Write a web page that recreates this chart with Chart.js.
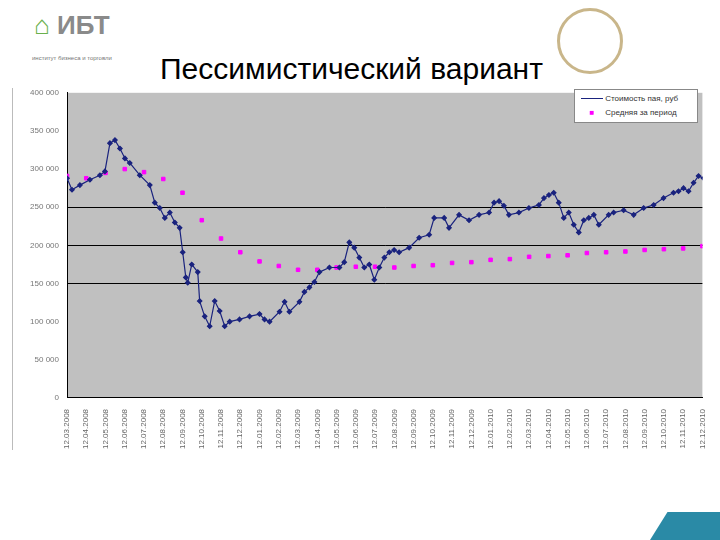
<!DOCTYPE html>
<html><head><meta charset="utf-8">
<script src="https://cdn.jsdelivr.net/npm/chart.js@4"></script>
<style>
body{margin:0;width:720px;height:540px;background:#fff;position:relative;overflow:hidden;font-family:"Liberation Sans",Arial,sans-serif}
#title{position:absolute;left:160px;top:52px;font-size:30px;color:#000}
#logo{position:absolute;left:34px;top:10px;font-size:26px;font-weight:bold;color:#8a8a8a}
#logo span{color:#6ab04c}
#sub{position:absolute;left:32px;top:55px;font-size:6px;color:#777}
#emb{position:absolute;left:557px;top:8px;width:66px;height:66px;border-radius:50%;border:3px solid #c9b68a;box-sizing:border-box}
#vl{position:absolute;left:12px;top:88px;width:1px;height:362px;background:#bbb}
#tri{position:absolute;right:0;bottom:0;width:70px;height:28px;background:#2a8aa6;clip-path:polygon(25% 0,100% 0,100% 100%,0 100%)}
#wrap{position:absolute;left:0;top:80px;width:715px;height:372px}
#leg{position:absolute;left:574px;top:89px;width:122px;height:32px;background:#fff;border:1px solid #888;font-size:8px;color:#333}
</style></head><body>
<div id="logo"><span>⌂</span> ИБТ</div><div id="sub">институт бизнеса и торговли</div>
<div id="emb"></div><div id="vl"></div>
<div id="title">Пессимистический вариант</div>
<div id="wrap"><canvas id="c" width="715" height="372"></canvas></div>
<div id="leg">
<div style="position:absolute;left:6px;top:4px"><span style="display:inline-block;width:22px;border-top:1px solid #1a237e;vertical-align:middle"></span> Стоимость пая, руб</div>
<div style="position:absolute;left:6px;top:18px"><span style="display:inline-block;width:22px;text-align:center;color:#ff00ff">■</span> Средняя за период</div>
</div>
<div id="tri"></div>
<script>
const monthLabels=["12.03.2008","12.04.2008","12.05.2008","12.06.2008","12.07.2008","12.08.2008","12.09.2008","12.10.2008","12.11.2008","12.12.2008","12.01.2009","12.02.2009","12.03.2009","12.04.2009","12.05.2009","12.06.2009","12.07.2009","12.08.2009","12.09.2009","12.10.2009","12.11.2009","12.12.2009","12.01.2010","12.02.2010","12.03.2010","12.04.2010","12.05.2010","12.06.2010","12.07.2010","12.08.2010","12.09.2010","12.10.2010","12.11.2010","12.12.2010"];
const priceX=[0,.26,.67,1.19,1.71,1.97,2.23,2.49,2.75,3.01,3.26,3.78,4.3,4.56,4.82,5.08,5.34,5.6,5.85,6.01,6.17,6.27,6.48,6.79,6.89,7.15,7.41,7.67,7.93,8.19,8.45,8.96,9.48,10,10.26,10.52,11.04,11.3,11.55,12.07,12.33,12.59,12.85,13.11,13.63,14.15,14.4,14.66,14.92,15.18,15.44,15.7,15.96,16.22,16.48,16.74,16.99,17.25,17.77,18.29,18.81,19.07,19.59,19.84,20.36,20.88,21.4,21.92,22.18,22.44,22.69,22.95,23.47,23.99,24.51,24.77,25.03,25.28,25.54,25.8,26.06,26.32,26.58,26.84,27.1,27.36,27.62,28.13,28.39,28.91,29.43,29.95,30.47,30.98,31.5,31.76,32.02,32.28,32.54,32.8,33.06];
const priceY=[288,273,279,286,292,297,334,338,327,314,308,292,279,256,249,236,243,230,223,191,158,151,175,165,127,107,94,127,114,94,100,103,107,110,103,100,113,126,113,126,139,145,152,165,171,171,178,204,197,184,171,175,155,171,184,191,194,191,197,210,214,236,236,223,240,233,240,243,256,258,252,240,243,249,253,262,266,269,256,236,243,227,217,233,236,240,227,240,243,246,240,249,253,262,269,271,275,271,282,291,288];
const avgY=[291,288,295,300,296,287,269,233,209,191,179,173,168,168,171,172,172,171,173,174,177,178,181,182,185,186,187,190,191,192,194,195,196,199];
const priceData=priceX.map((x,i)=>({x:x,y:priceY[i]*1000}));
const avgData=avgY.map((v,i)=>({x:i,y:v*1000}));
const bg={id:'bg',beforeDraw(c){const a=c.chartArea,x=c.ctx;x.save();x.fillStyle='#c0c0c0';x.fillRect(a.left,a.top,a.right-a.left,a.bottom-a.top);x.restore();}};
new Chart(document.getElementById('c'),{
type:'line',
data:{datasets:[
{data:priceData,borderColor:'#1a237e',borderWidth:1.2,pointStyle:'rectRot',pointRadius:2.2,pointBackgroundColor:'#1a237e',pointBorderColor:'#1a237e',tension:0},
{data:avgData,showLine:false,pointStyle:'rect',pointRadius:2.5,pointBackgroundColor:'#ff00ff',pointBorderColor:'#ff00ff'}
]},
options:{animation:false,responsive:false,maintainAspectRatio:false,
layout:{padding:{top:9,right:0}},
plugins:{legend:{display:false},tooltip:{enabled:false}},
scales:{
x:{type:'linear',min:0,max:33,grid:{display:false},border:{color:'#000'},
ticks:{stepSize:1,autoSkip:false,maxRotation:90,minRotation:90,color:'#666',font:{size:8},callback:v=>monthLabels[v]}},
y:{min:0,max:400000,afterFit(s){s.width=67},border:{color:'#000'},
grid:{color:c=>(c.tick.value>=150000&&c.tick.value<=250000)?'#000':'rgba(0,0,0,0)',drawTicks:false},
ticks:{stepSize:50000,autoSkip:false,color:'#777',font:{size:8},padding:8,callback:v=>v===0?'0':(v/1000)+' 000'}}
}},
plugins:[bg]
});
</script>
</body></html>
